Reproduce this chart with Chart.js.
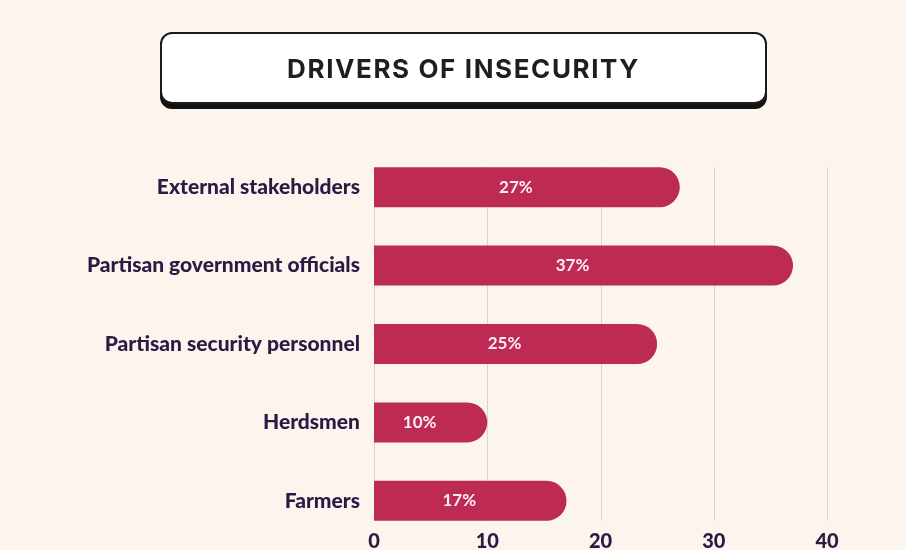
<!DOCTYPE html>
<html>
<head>
<meta charset="utf-8">
<script src="https://cdn.jsdelivr.net/npm/chart.js@4/dist/chart.umd.min.js"></script>
<style>
  html, body { margin: 0; padding: 0; background: #fcf5ee; }
  #wrap { position: relative; width: 906px; height: 550px; }
  #title {
    position: absolute; left: 160px; top: 32px; width: 603px; height: 68px;
    background: #ffffff; border: 2px solid #1a1a1a; border-radius: 12px;
    box-shadow: 0 5px 0 #111111;
    display: flex; align-items: center; justify-content: center;
    font-family: Inter, "Open Sans", sans-serif; font-weight: 700; font-size: 26px;
    letter-spacing: 1.6px; color: #1e1e1e;
  }
  canvas { position: absolute; left: 0; top: 0; }
</style>
</head>
<body>
<div id="wrap">
  <canvas id="c" width="906" height="550"></canvas>
  <div id="title">DRIVERS OF INSECURITY</div>
</div>
<script>
const categories = [
  "External stakeholders",
  "Partisan government officials",
  "Partisan security personnel",
  "Herdsmen",
  "Farmers"
];
const shares = [27, 37, 25, 10, 17];
const xTicks = [0, 10, 20, 30, 40];

const BAR = "#bd2b55";
const INK = "#2c1a44";
const GRID = "#d9d3cd";
const LABEL_FONT = "Lato, 'Open Sans', sans-serif";

// Vertical guide lines, spanning only the band occupied by the bars.
const guides = {
  id: "guides",
  beforeDatasetsDraw(chart) {
    const bars = chart.getDatasetMeta(0).data;
    if (!bars.length) return;
    const top = bars[0].y - bars[0].height / 2;
    const last = bars[bars.length - 1];
    const bottom = last.y + last.height / 2;
    const x = chart.scales.x;
    const ctx = chart.ctx;
    ctx.save();
    ctx.strokeStyle = GRID;
    ctx.lineWidth = 1;
    xTicks.forEach(v => {
      const px = Math.round(x.getPixelForValue(v)) + 0.5;
      ctx.beginPath();
      ctx.moveTo(px, top);
      ctx.lineTo(px, bottom);
      ctx.stroke();
    });
    ctx.restore();
  }
};

// Value-axis numbers, tucked just under the last bar.
const axisNumbers = {
  id: "axisNumbers",
  afterDraw(chart) {
    const x = chart.scales.x;
    const ctx = chart.ctx;
    ctx.save();
    ctx.fillStyle = INK;
    ctx.font = "900 20px " + LABEL_FONT;
    ctx.textAlign = "center";
    ctx.textBaseline = "middle";
    xTicks.forEach(v => {
      ctx.fillText(String(v), x.getPixelForValue(v), chart.chartArea.bottom + 2);
    });
    ctx.restore();
  }
};

// Percentage labels inside each bar.
const valueLabels = {
  id: "valueLabels",
  afterDatasetsDraw(chart) {
    const meta = chart.getDatasetMeta(0);
    const ctx = chart.ctx;
    ctx.save();
    ctx.fillStyle = "#fbeff2";
    ctx.font = "700 17px " + LABEL_FONT;
    ctx.textAlign = "center";
    ctx.textBaseline = "middle";
    meta.data.forEach((bar, i) => {
      const cx = (bar.base + bar.x) / 2 - 11;
      ctx.fillText(shares[i] + "%", cx, bar.y);
    });
    ctx.restore();
  }
};

new Chart(document.getElementById("c"), {
  type: "bar",
  data: {
    labels: categories,
    datasets: [{
      data: shares,
      backgroundColor: BAR,
      borderWidth: 0,
      borderSkipped: "start",
      borderRadius: { topLeft: 0, bottomLeft: 0, topRight: 20, bottomRight: 20 },
      barPercentage: 0.51,
      categoryPercentage: 1.0
    }]
  },
  options: {
    indexAxis: "y",
    responsive: false,
    animation: false,
    events: [],
    layout: { padding: { top: 148, right: 79, bottom: 10, left: 0 } },
    plugins: {
      legend: { display: false },
      tooltip: { enabled: false },
      title: { display: false }
    },
    scales: {
      x: {
        display: false,
        min: 0,
        max: 40
      },
      y: {
        afterFit(scale) {
          scale.width = 374;
          scale.paddingTop = 0;
          scale.paddingBottom = 0;
        },
        grid: { display: false, drawTicks: false },
        border: { display: false },
        ticks: {
          padding: 14,
          color: INK,
          font: { family: LABEL_FONT, size: 21, weight: 900 }
        }
      }
    }
  },
  plugins: [guides, valueLabels, axisNumbers]
});
</script>
</body>
</html>
